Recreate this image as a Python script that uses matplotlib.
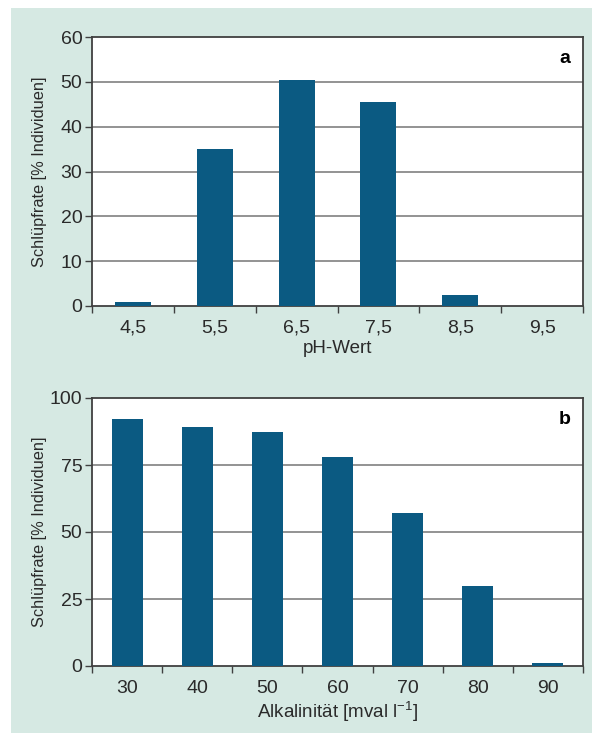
import matplotlib
matplotlib.use("Agg")
import matplotlib.pyplot as plt
from matplotlib.patches import Rectangle

plt.rcParams['font.family'] = ['Liberation Sans', 'DejaVu Sans']
plt.rcParams['mathtext.default'] = 'regular'

# Panel a: hatching rate vs. pH
ph_labels = ["4,5", "5,5", "6,5", "7,5", "8,5", "9,5"]
ph_values = [0.8, 35, 50.5, 45.5, 2.5, 0]

# Panel b: hatching rate vs. alkalinity
alk_labels = ["30", "40", "50", "60", "70", "80", "90"]
alk_values = [92, 89, 87.5, 78, 57, 30, 1]

BG = "#d6e9e3"
BAR = "#0b5a82"
GRID = "#8a8a8a"
FRAME = "#404040"
TXT = "#2a2a2a"

W, H = 592, 733
fig = plt.figure(figsize=(W / 100, H / 100), dpi=100)
fig.patch.set_facecolor("white")
fig.add_artist(Rectangle((11 / W, 0), 1 - 11 / W, 1 - 8 / H,
                         transform=fig.transFigure, facecolor=BG,
                         edgecolor="none", zorder=0))


def panel(rect, labels, values, yticks, ylim, xlabel, tag):
    l, t, r, b = rect
    ax = fig.add_axes([l / W, 1 - b / H, (r - l) / W, (b - t) / H])
    ax.set_facecolor("white")
    x = range(len(labels))
    ax.bar(x, values, width=0.44, color=BAR, zorder=3)
    ax.set_xlim(-0.5, len(labels) - 0.5)
    ax.set_ylim(*ylim)
    ax.set_yticks(yticks)
    ax.set_yticklabels([str(v) for v in yticks])
    ax.set_xticks(list(x))
    ax.set_xticklabels(labels)
    ax.tick_params(axis="x", length=0, pad=10, labelsize=14, labelcolor=TXT)
    ax.tick_params(axis="y", length=5, width=1, color=FRAME, pad=2,
                   labelsize=14, labelcolor=TXT)
    # category boundary ticks on the x axis
    ax.set_xticks([i + 0.5 for i in range(len(labels) - 1)] + [-0.5, len(labels) - 0.5], minor=True)
    ax.tick_params(axis="x", which="minor", length=5, width=1, color=FRAME)
    for v in yticks[1:-1]:
        ax.axhline(v, color=GRID, lw=1.3, zorder=1)
    for s in ax.spines.values():
        s.set_color(FRAME)
        s.set_linewidth(1.3)
    ax.set_ylabel("Schlüpfrate [% Individuen]", fontsize=11.8, color=TXT, va="center")
    ax.yaxis.set_label_coords((40 - l) / (r - l), 0.5)
    ax.set_xlabel(xlabel, fontsize=13.5, color=TXT, labelpad=2)
    ax.text(0.975, 0.95, tag, transform=ax.transAxes, ha="right", va="top",
            fontsize=14, fontweight="bold", color="black")
    return ax


panel((92, 37, 583, 306), ph_labels, ph_values, [0, 10, 20, 30, 40, 50, 60],
      (0, 60), "pH-Wert", "a")
panel((92, 398, 583, 666), alk_labels, alk_values, [0, 25, 50, 75, 100],
      (0, 100), r"Alkalinität [mval l$^{-1}$]", "b")

fig.savefig("out.png", dpi=100, facecolor=fig.get_facecolor())
